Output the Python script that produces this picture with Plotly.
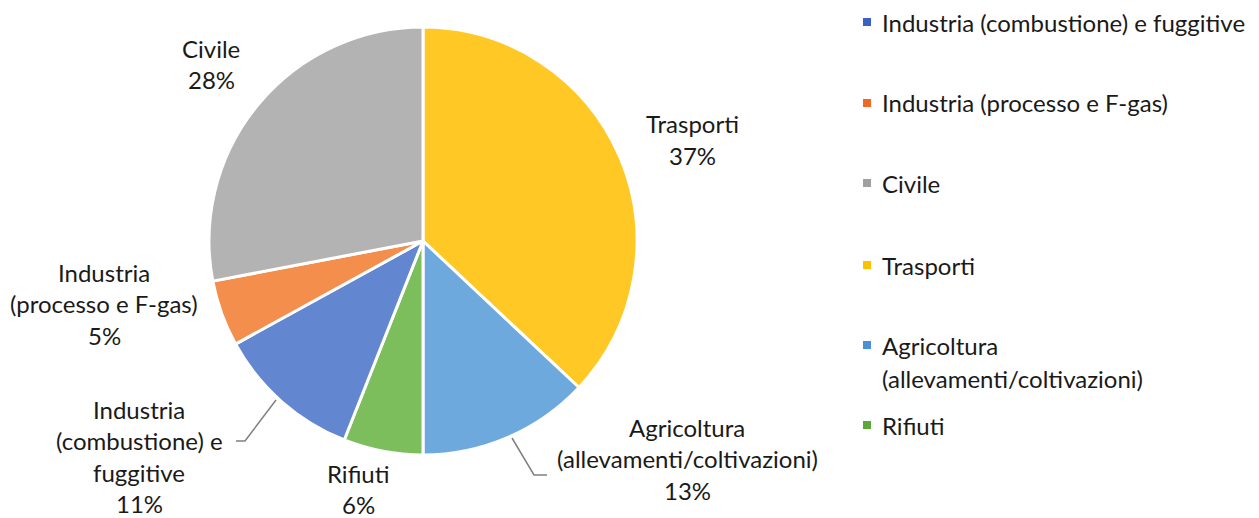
import plotly.graph_objects as go

# ---- data ----
categories = ["Trasporti", "Agricoltura (allevamenti/coltivazioni)", "Rifiuti",
              "Industria (combustione) e fuggitive", "Industria (processo e F-gas)", "Civile"]
values = [37, 13, 6, 11, 5, 28]
label_lines = [["Trasporti"], ["Agricoltura", "(allevamenti/coltivazioni)"], ["Rifiuti"],
               ["Industria", "(combustione) e", "fuggitive"], ["Industria", "(processo e F-gas)"], ["Civile"]]
legend_order = ["Industria (combustione) e fuggitive", "Industria (processo e F-gas)", "Civile",
                "Trasporti", "Agricoltura (allevamenti/coltivazioni)", "Rifiuti"]
legend_lines = {"Agricoltura (allevamenti/coltivazioni)": ["Agricoltura", "(allevamenti/coltivazioni)"]}

# ---- styling ----
W, H = 1259, 518
slice_colors = {"Trasporti": "#FFC825", "Agricoltura (allevamenti/coltivazioni)": "#6EA9DE",
                "Rifiuti": "#7DBE5C", "Industria (combustione) e fuggitive": "#6286D0",
                "Industria (processo e F-gas)": "#F38E4C", "Civile": "#B3B3B3"}
legend_colors = {"Trasporti": "#FFC000", "Agricoltura (allevamenti/coltivazioni)": "#4A90D6",
                 "Rifiuti": "#5BA83A", "Industria (combustione) e fuggitive": "#3A62C0",
                 "Industria (processo e F-gas)": "#EE6A24", "Civile": "#A0A0A0"}
# label anchor positions (px): centre x, first-line centre y
label_pos = [(692, 124), (687, 427), (358, 473), (139, 409), (104, 272), (211, 48)]
line_h = 31.5
FONT = "Lato"
FS = 24
TXT = "#1a1a1a"

def px(x):
    return x / W

def py(y):
    return 1 - y / H

fig = go.Figure(go.Pie(
    labels=categories, values=values, sort=False, direction="clockwise", rotation=0,
    marker=dict(colors=[slice_colors[c] for c in categories], line=dict(color="white", width=3)),
    textinfo="none", showlegend=False, hoverinfo="label+percent",
    domain=dict(x=[px(209), px(637)], y=[py(455), py(27)]),
))

annotations = []
for lines, v, (cx, cy) in zip(label_lines, values, label_pos):
    for i, t in enumerate(lines + [f"{v}%"]):
        annotations.append(dict(x=px(cx), y=py(cy + i * line_h), xref="paper", yref="paper",
                                text=t, showarrow=False, xanchor="center", yanchor="middle",
                                font=dict(family=FONT, size=FS, color=TXT)))

shapes = []
# leader lines
for pts in [[(276, 400), (245, 441), (236, 441)], [(512, 438), (534, 475), (547, 475)]]:
    path = "M " + " L ".join(f"{px(x)} {py(y)}" for x, y in pts)
    shapes.append(dict(type="path", path=path, xref="paper", yref="paper",
                       line=dict(color="#808080", width=1.5)))

# legend
leg_y = [22, 103, 183, 265, 345, 425]
for name, y in zip(legend_order, leg_y):
    shapes.append(dict(type="rect", xref="paper", yref="paper",
                       x0=px(863), x1=px(871), y0=py(y - 4), y1=py(y + 4),
                       fillcolor=legend_colors[name], line=dict(width=0)))
    for i, t in enumerate(legend_lines.get(name, [name])):
        annotations.append(dict(x=px(880), y=py(y + i * 33), xref="paper", yref="paper",
                                text=t, showarrow=False, xanchor="left", yanchor="middle",
                                font=dict(family=FONT, size=FS, color=TXT)))

fig.update_layout(width=W, height=H, margin=dict(l=0, r=0, t=0, b=0),
                  paper_bgcolor="white", plot_bgcolor="white",
                  annotations=annotations, shapes=shapes, showlegend=False)
fig.write_html("out.html", config={"displayModeBar": False},
               post_script="document.body.style.margin='0';")
